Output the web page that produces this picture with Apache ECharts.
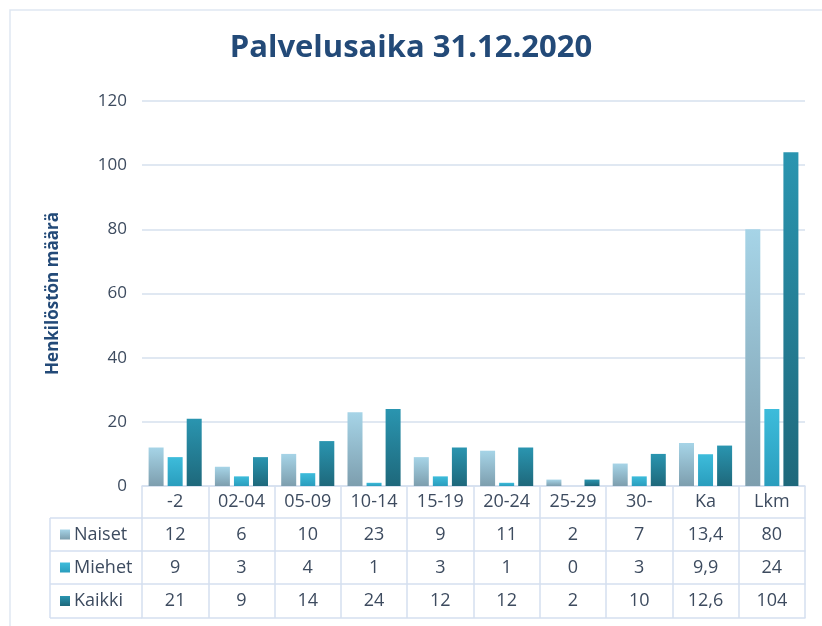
<!DOCTYPE html>
<html>
<head>
<meta charset="utf-8">
<script src="https://cdn.jsdelivr.net/npm/echarts@6/dist/echarts.min.js"></script>
<style>
  html, body { margin: 0; padding: 0; background: #ffffff; }
  #chart { width: 822px; height: 626px; }
</style>
</head>
<body>
<div id="chart"></div>
<script>
// ---- data ----
const categories = ['-2', '02-04', '05-09', '10-14', '15-19', '20-24', '25-29', '30-', 'Ka', 'Lkm'];
const naiset = [12, 6, 10, 23, 9, 11, 2, 7, 13.4, 80];
const miehet = [9, 3, 4, 1, 3, 1, 0, 3, 9.9, 24];
const kaikki = [21, 9, 14, 24, 12, 12, 2, 10, 12.6, 104];
const seriesNames = ['Naiset', 'Miehet', 'Kaikki'];
const yTicks = { min: 0, max: 120, interval: 20 };
const titleText = 'Palvelusaika 31.12.2020';
const yAxisName = 'Henkilöstön määrä';

// ---- style ----
const FONT = '"Open Sans", "DejaVu Sans", sans-serif';
const TEXT = '#3d4b5f';
const NAVY = '#234a78';
const LINE = '#d5dff0';
function grad(top, bottom) {
  return new echarts.graphic.LinearGradient(0, 0, 0, 1, [
    { offset: 0, color: top }, { offset: 1, color: bottom }
  ]);
}
const colors = [
  ['#a6d4e7', '#7d9eae'],
  ['#3dbcdb', '#2a9dbd'],
  ['#2a95b0', '#1e687b']
];
const values = [naiset, miehet, kaikki];
const fmt = v => String(v).replace('.', ',');

const gridLeft = 142, gridRight = 17, gridTop = 101, gridBottom = 140;
const rowTops = [32, 65, 98];   // offsets below the category axis
const tableBottom = 132;

const xAxes = [{
  type: 'category',
  data: categories,
  position: 'bottom',
  axisLine: { show: true, lineStyle: { color: LINE, width: 1.5 } },
  axisTick: { show: true, length: tableBottom, lineStyle: { color: LINE, width: 1.5 } },
  axisLabel: { color: TEXT, fontSize: 18, fontFamily: FONT, margin: 16, verticalAlign: 'middle', interval: 0 }
}];
rowTops.forEach((off, i) => {
  xAxes.push({
    type: 'category',
    data: values[i].map(fmt),
    position: 'bottom',
    offset: off,
    axisLine: { show: true, lineStyle: { color: LINE, width: 1.5 } },
    axisTick: { show: false },
    axisLabel: { color: TEXT, fontSize: 18, fontFamily: FONT, margin: 17, verticalAlign: 'middle', interval: 0 }
  });
});
xAxes.push({
  type: 'category',
  data: categories,
  position: 'bottom',
  offset: tableBottom,
  axisLine: { show: true, lineStyle: { color: LINE, width: 1.5 } },
  axisTick: { show: false },
  axisLabel: { show: false }
});

const series = values.map((arr, i) => ({
  name: seriesNames[i],
  type: 'bar',
  xAxisIndex: 0,
  data: arr,
  barWidth: 15,
  barGap: '27%',
  itemStyle: { color: grad(colors[i][0], colors[i][1]) },
  silent: true
}));

// left column of the data table
const graphics = [];
const rowLines = [486 + rowTops[0], 486 + rowTops[1], 486 + rowTops[2], 486 + tableBottom];
rowLines.forEach(y => {
  graphics.push({ type: 'line', shape: { x1: 50, y1: y, x2: gridLeft, y2: y }, style: { stroke: LINE, lineWidth: 1.5 } });
});
graphics.push({ type: 'line', shape: { x1: 50, y1: rowLines[0], x2: 50, y2: rowLines[3] }, style: { stroke: LINE, lineWidth: 1.5 } });
seriesNames.forEach((n, i) => {
  const cy = (rowLines[i] + rowLines[i + 1]) / 2;
  graphics.push({ type: 'rect', shape: { x: 60, y: cy - 5, width: 10, height: 10 }, style: { fill: grad(colors[i][0], colors[i][1]) } });
  graphics.push({ type: 'text', x: 74, y: cy, style: { text: n, fill: TEXT, font: '18px ' + FONT, textVerticalAlign: 'middle', verticalAlign: 'middle' } });
});
// outer chart border
graphics.push({ type: 'polyline', shape: { points: [[10, 626], [10, 10], [822, 10]] }, style: { stroke: '#dfe7f2', lineWidth: 1.5, fill: null } });

const chart = echarts.init(document.getElementById('chart'), null, { renderer: 'canvas' });
chart.setOption({
  animation: false,
  backgroundColor: '#ffffff',
  title: {
    text: titleText,
    left: 'center',
    top: 28,
    textStyle: { color: NAVY, fontSize: 31, fontWeight: 'bold', fontFamily: FONT }
  },
  grid: { left: gridLeft, right: gridRight, top: gridTop, bottom: gridBottom, containLabel: false },
  xAxis: xAxes,
  yAxis: {
    type: 'value',
    min: yTicks.min, max: yTicks.max, interval: yTicks.interval,
    name: yAxisName,
    nameLocation: 'middle',
    nameGap: 80,
    nameRotate: 90,
    nameTextStyle: { color: NAVY, fontSize: 17, fontWeight: 'bold', fontFamily: FONT },
    axisLine: { show: false },
    axisTick: { show: false },
    axisLabel: { color: TEXT, fontSize: 17, fontFamily: FONT, margin: 15 },
    splitLine: { show: true, lineStyle: { color: '#d6e0ee', width: 1.5 } }
  },
  series: series,
  graphic: graphics
});
</script>
</body>
</html>
